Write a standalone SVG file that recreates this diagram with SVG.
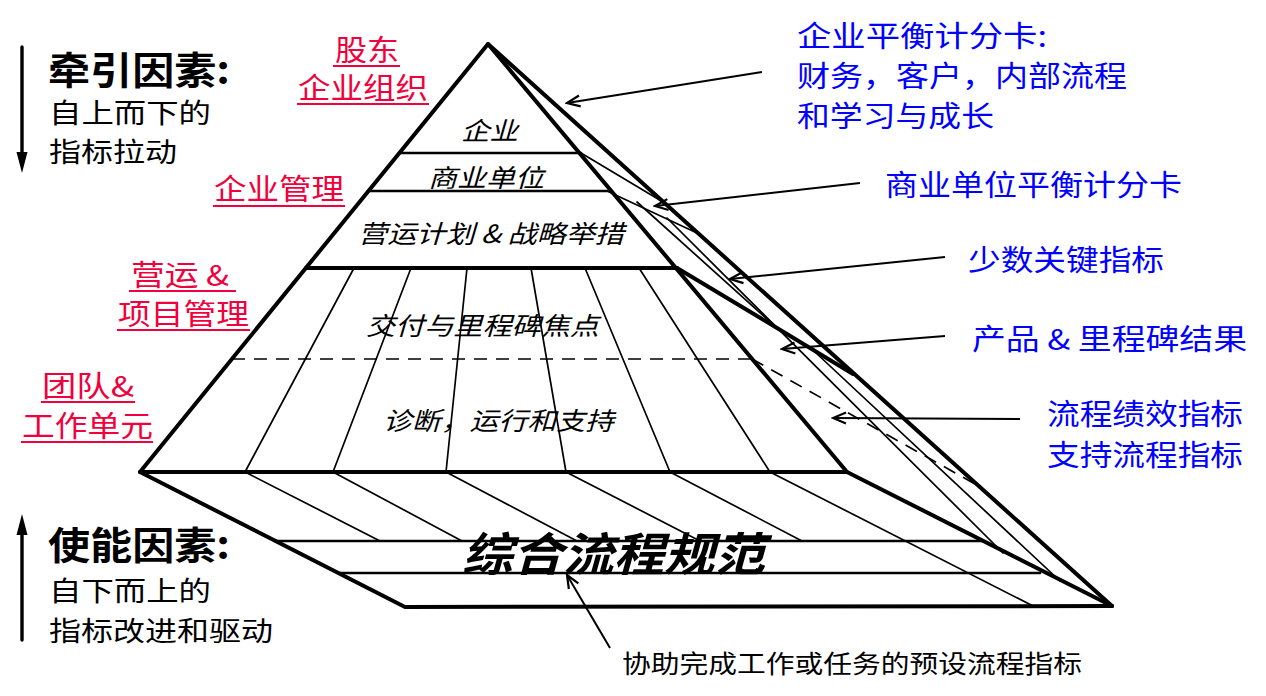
<svg xmlns="http://www.w3.org/2000/svg" width="1266" height="696" viewBox="0 0 1266 696">
<style>
.k{stroke:#000;fill:none;stroke-linecap:round;stroke-linejoin:round}
.t4{stroke-width:4}
.t3{stroke-width:2.6}
.t2{stroke-width:1.7}
.dash{stroke-dasharray:13 9;stroke-linecap:butt}
.cjk{font-family:"Noto Sans CJK SC","Noto Sans",sans-serif}
.red{fill:#f0003c;font-size:29px}
.blue{fill:#0000ff;font-size:29px}
.blk{fill:#000}
.it{font-style:italic;font-size:25px;fill:#000}
.ul{stroke:#f0003c;stroke-width:2}
.con{stroke:#000;stroke-width:2;fill:none}
</style>
<defs>
<marker id="open" viewBox="-16 -8 18 16" markerWidth="18" markerHeight="16" refX="0" refY="0" orient="auto" markerUnits="userSpaceOnUse">
<path d="M-13,-5.5 L0,0 L-13,5.5" fill="none" stroke="#000" stroke-width="2.2"/>
</marker>
</defs>
<rect width="1266" height="696" fill="#fff"/>

<g id="pyramid">
<polygon class="k t4" points="488,44 140,472 847,472"/>
<line class="k t4" x1="488" y1="44" x2="1112" y2="606"/>
<polyline class="k t4" points="140,472 405,607 1112,606"/>
<line class="k t4" x1="847" y1="472" x2="1112" y2="606"/>
<line class="k t3" x1="399" y1="153" x2="581" y2="153"/>
<line class="k t3" x1="368" y1="191" x2="607" y2="191"/>
<line class="k t4" x1="306" y1="268" x2="677" y2="268"/>
<line class="k t2 dash" x1="232" y1="359" x2="752" y2="359"/>
<line class="k t2" x1="354" y1="268" x2="245" y2="472"/>
<line class="k t2" x1="411" y1="268" x2="333" y2="472"/>
<line class="k t2" x1="467" y1="268" x2="446" y2="472"/>
<line class="k t2" x1="531" y1="268" x2="566" y2="472"/>
<line class="k t2" x1="585" y1="268" x2="670" y2="472"/>
<line class="k t2" x1="639" y1="268" x2="770" y2="472"/>
<line class="k t3" x1="275" y1="541" x2="983" y2="541"/>
<line class="k t3" x1="338" y1="573" x2="1040" y2="573"/>
<line class="k t2" x1="245" y1="472" x2="380" y2="541"/>
<line class="k t2" x1="333" y1="472" x2="462" y2="541"/>
<line class="k t2" x1="446" y1="472" x2="577" y2="541"/>
<line class="k t2" x1="566" y1="472" x2="700" y2="541"/>
<line class="k t2" x1="670" y1="472" x2="802" y2="541"/>
<line class="k t2" x1="770" y1="472" x2="1035" y2="607"/>
<line class="k t2" x1="581" y1="153" x2="663" y2="202"/>
<line class="k t2" x1="607" y1="191" x2="697" y2="233"/>
<polyline class="k t4" points="677,268 777,328 853,374"/>
<line class="k t2" x1="637" y1="202" x2="777" y2="328"/>
<line class="k t2" x1="667" y1="218" x2="1003" y2="553"/>
<line class="k t2" x1="815" y1="352" x2="1060" y2="581"/>
<line class="k t2 dash" x1="752" y1="359" x2="975" y2="484"/>
</g>

<g id="layer-labels" class="cjk">
<text class="it" x="461" y="140" textLength="57" lengthAdjust="spacingAndGlyphs">企业</text>
<text class="it" x="428" y="187" textLength="116" lengthAdjust="spacingAndGlyphs">商业单位</text>
<text class="it" x="358" y="243" textLength="266" lengthAdjust="spacingAndGlyphs">营运计划 &amp; 战略举措</text>
<text class="it" x="366" y="335" textLength="233" lengthAdjust="spacingAndGlyphs">交付与里程碑焦点</text>
<text class="it" x="383" y="430" textLength="231" lengthAdjust="spacingAndGlyphs">诊断，运行和支持</text>
<text class="it" x="462" y="571" style="font-size:46px;font-weight:bold" textLength="303" lengthAdjust="spacingAndGlyphs">综合流程规范</text>
</g>

<g id="left-labels" class="cjk blk">
<text x="48" y="84" style="font-size:38px;font-weight:bold" textLength="182" lengthAdjust="spacingAndGlyphs">牵引因素:</text>
<text x="49" y="123" style="font-size:27px" textLength="162" lengthAdjust="spacingAndGlyphs">自上而下的</text>
<text x="49" y="162" style="font-size:27px" textLength="128" lengthAdjust="spacingAndGlyphs">指标拉动</text>
<text x="48" y="559" style="font-size:38px;font-weight:bold" textLength="182" lengthAdjust="spacingAndGlyphs">使能因素:</text>
<text x="49" y="601" style="font-size:27px" textLength="162" lengthAdjust="spacingAndGlyphs">自下而上的</text>
<text x="49" y="641" style="font-size:27px" textLength="224" lengthAdjust="spacingAndGlyphs">指标改进和驱动</text>
</g>

<g id="red-labels" class="cjk">
<text class="red" x="335" y="61" textLength="64" lengthAdjust="spacingAndGlyphs">股东</text>
<line class="ul" x1="333" y1="66" x2="400" y2="66"/>
<text class="red" x="298" y="99" textLength="130" lengthAdjust="spacingAndGlyphs">企业组织</text>
<line class="ul" x1="297" y1="104" x2="429" y2="104"/>
<text class="red" x="214" y="200" textLength="130" lengthAdjust="spacingAndGlyphs">企业管理</text>
<line class="ul" x1="213" y1="206" x2="345" y2="206"/>
<text class="red" x="131" y="286" textLength="98" lengthAdjust="spacingAndGlyphs">营运 &amp;</text>
<line class="ul" x1="129" y1="291" x2="236" y2="291"/>
<text class="red" x="118" y="325" textLength="131" lengthAdjust="spacingAndGlyphs">项目管理</text>
<line class="ul" x1="117" y1="330" x2="250" y2="330"/>
<text class="red" x="42" y="397" textLength="92" lengthAdjust="spacingAndGlyphs">团队&amp;</text>
<line class="ul" x1="41" y1="402" x2="135" y2="402"/>
<text class="red" x="22" y="437" textLength="131" lengthAdjust="spacingAndGlyphs">工作单元</text>
<line class="ul" x1="21" y1="442" x2="153" y2="442"/>
</g>

<g id="blue-labels" class="cjk">
<text class="blue" x="797" y="47" textLength="250" lengthAdjust="spacingAndGlyphs">企业平衡计分卡:</text>
<text class="blue" x="797" y="87" textLength="330" lengthAdjust="spacingAndGlyphs">财务，客户，内部流程</text>
<text class="blue" x="797" y="127" textLength="197" lengthAdjust="spacingAndGlyphs">和学习与成长</text>
<text class="blue" x="885" y="196" textLength="297" lengthAdjust="spacingAndGlyphs">商业单位平衡计分卡</text>
<text class="blue" x="968" y="271" textLength="196" lengthAdjust="spacingAndGlyphs">少数关键指标</text>
<text class="blue" x="972" y="350" textLength="275" lengthAdjust="spacingAndGlyphs">产品 &amp; 里程碑结果</text>
<text class="blue" x="1047" y="425" textLength="196" lengthAdjust="spacingAndGlyphs">流程绩效指标</text>
<text class="blue" x="1047" y="466" textLength="196" lengthAdjust="spacingAndGlyphs">支持流程指标</text>
</g>

<g id="bottom-label" class="cjk blk">
<text x="622" y="673" style="font-size:25px" textLength="460" lengthAdjust="spacingAndGlyphs">协助完成工作或任务的预设流程指标</text>
</g>

<g id="connectors">
<line class="con" x1="762" y1="72" x2="567" y2="103" marker-end="url(#open)"/>
<line class="con" x1="860" y1="183" x2="655" y2="206" marker-end="url(#open)"/>
<line class="con" x1="945" y1="257" x2="730" y2="279" marker-end="url(#open)"/>
<line class="con" x1="945" y1="336" x2="782" y2="349" marker-end="url(#open)"/>
<line class="con" x1="1020" y1="419" x2="833" y2="418" marker-end="url(#open)"/>
<line class="con" x1="610" y1="648" x2="567" y2="575" marker-end="url(#open)"/>
<line class="k" style="stroke-width:3.4" x1="22" y1="47" x2="22" y2="160"/>
<path d="M16.5,152 L22,173 L27.5,152 Z" fill="#000"/>
<line class="k" style="stroke-width:3.4" x1="22" y1="640" x2="22" y2="527"/>
<path d="M16.5,535 L22,514 L27.5,535 Z" fill="#000"/>
</g>
</svg>
